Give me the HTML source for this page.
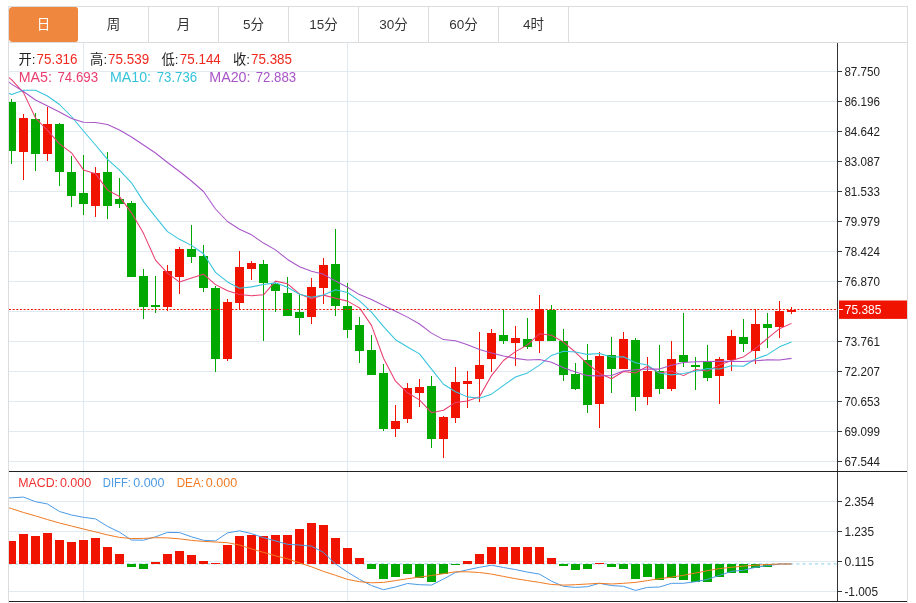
<!DOCTYPE html>
<html lang="zh-CN"><head><meta charset="utf-8"><title>K线图</title>
<style>
html,body{margin:0;padding:0;background:#fff}
body{width:916px;height:603px;position:relative;overflow:hidden;font-family:"Liberation Sans","Noto Sans CJK SC",sans-serif}
#frame{position:absolute;left:8px;top:6px;width:898px;height:596px;border:1px solid #dcdcdc;border-bottom:none;box-sizing:content-box}
#tabs{position:absolute;left:8px;top:6px;width:898px;height:35px;border:1px solid #dcdcdc;display:flex}
.tab{width:69px;height:35px;border-right:1px solid #dcdcdc;line-height:35px;text-align:center;font-size:13.5px;color:#333}
.tab.on{background:#f0873e;color:#fff;border-radius:3px;border-right-color:transparent;background-clip:padding-box}
</style></head><body>
<div id="frame"></div>
<div id="tabs"><div class="tab on">日</div><div class="tab">周</div><div class="tab">月</div><div class="tab">5分</div><div class="tab">15分</div><div class="tab">30分</div><div class="tab">60分</div><div class="tab">4时</div></div>
<svg width="916" height="603" viewBox="0 0 916 603" style="position:absolute;left:0;top:0">
<defs><clipPath id="cm"><rect x="9" y="43" width="828" height="428"/></clipPath><clipPath id="cd"><rect x="9" y="472" width="828" height="129"/></clipPath></defs>
<g stroke="#e2eaf1" stroke-width="1" shape-rendering="crispEdges">
<line x1="9" x2="837" y1="71.5" y2="71.5"/>
<line x1="9" x2="837" y1="101.5" y2="101.5"/>
<line x1="9" x2="837" y1="131.5" y2="131.5"/>
<line x1="9" x2="837" y1="161.5" y2="161.5"/>
<line x1="9" x2="837" y1="191.5" y2="191.5"/>
<line x1="9" x2="837" y1="221.5" y2="221.5"/>
<line x1="9" x2="837" y1="251.5" y2="251.5"/>
<line x1="9" x2="837" y1="281.5" y2="281.5"/>
<line x1="9" x2="837" y1="311.5" y2="311.5"/>
<line x1="9" x2="837" y1="341.5" y2="341.5"/>
<line x1="9" x2="837" y1="371.5" y2="371.5"/>
<line x1="9" x2="837" y1="401.5" y2="401.5"/>
<line x1="9" x2="837" y1="431.5" y2="431.5"/>
<line x1="9" x2="837" y1="461.5" y2="461.5"/>
<line x1="83.5" x2="83.5" y1="43" y2="471"/>
<line x1="83.5" x2="83.5" y1="472" y2="601"/>
<line x1="347.5" x2="347.5" y1="43" y2="471"/>
<line x1="347.5" x2="347.5" y1="472" y2="601"/>
<line x1="9" x2="837" y1="501.5" y2="501.5"/>
<line x1="9" x2="837" y1="531.5" y2="531.5"/>
<line x1="9" x2="837" y1="561.5" y2="561.5"/>
<line x1="9" x2="837" y1="591.5" y2="591.5"/>
</g>
<g clip-path="url(#cm)" shape-rendering="crispEdges">
<rect x="11" y="99" width="1" height="65" fill="#00a800"/>
<rect x="7" y="102" width="9" height="49" fill="#00a800"/>
<rect x="23" y="114" width="1" height="66" fill="#f01400"/>
<rect x="19" y="118" width="9" height="34" fill="#f01400"/>
<rect x="35" y="113" width="1" height="58" fill="#00a800"/>
<rect x="31" y="119" width="9" height="35" fill="#00a800"/>
<rect x="47" y="107" width="1" height="54" fill="#f01400"/>
<rect x="43" y="124" width="9" height="30" fill="#f01400"/>
<rect x="59" y="123" width="1" height="63" fill="#00a800"/>
<rect x="55" y="124" width="9" height="48" fill="#00a800"/>
<rect x="71" y="156" width="1" height="51" fill="#00a800"/>
<rect x="67" y="172" width="9" height="24" fill="#00a800"/>
<rect x="83" y="155" width="1" height="60" fill="#00a800"/>
<rect x="79" y="193" width="9" height="11" fill="#00a800"/>
<rect x="95" y="167" width="1" height="50" fill="#f01400"/>
<rect x="91" y="173" width="9" height="33" fill="#f01400"/>
<rect x="107" y="152" width="1" height="67" fill="#00a800"/>
<rect x="103" y="172" width="9" height="34" fill="#00a800"/>
<rect x="119" y="178" width="1" height="30" fill="#00a800"/>
<rect x="115" y="199" width="9" height="5" fill="#00a800"/>
<rect x="131" y="201" width="1" height="76" fill="#00a800"/>
<rect x="127" y="203" width="9" height="74" fill="#00a800"/>
<rect x="143" y="269" width="1" height="50" fill="#00a800"/>
<rect x="139" y="276" width="9" height="31" fill="#00a800"/>
<rect x="155" y="276" width="1" height="37" fill="#00a800"/>
<rect x="151" y="305" width="9" height="2" fill="#00a800"/>
<rect x="167" y="265" width="1" height="46" fill="#f01400"/>
<rect x="163" y="271" width="9" height="36" fill="#f01400"/>
<rect x="179" y="247" width="1" height="47" fill="#f01400"/>
<rect x="175" y="249" width="9" height="28" fill="#f01400"/>
<rect x="191" y="225" width="1" height="38" fill="#00a800"/>
<rect x="187" y="249" width="9" height="8" fill="#00a800"/>
<rect x="203" y="245" width="1" height="47" fill="#00a800"/>
<rect x="199" y="256" width="9" height="32" fill="#00a800"/>
<rect x="215" y="286" width="1" height="86" fill="#00a800"/>
<rect x="211" y="288" width="9" height="71" fill="#00a800"/>
<rect x="227" y="299" width="1" height="62" fill="#f01400"/>
<rect x="223" y="302" width="9" height="57" fill="#f01400"/>
<rect x="239" y="251" width="1" height="59" fill="#f01400"/>
<rect x="235" y="267" width="9" height="36" fill="#f01400"/>
<rect x="251" y="261" width="1" height="19" fill="#f01400"/>
<rect x="247" y="263" width="9" height="6" fill="#f01400"/>
<rect x="263" y="260" width="1" height="81" fill="#00a800"/>
<rect x="259" y="264" width="9" height="19" fill="#00a800"/>
<rect x="275" y="283" width="1" height="29" fill="#00a800"/>
<rect x="271" y="284" width="9" height="7" fill="#00a800"/>
<rect x="287" y="277" width="1" height="39" fill="#00a800"/>
<rect x="283" y="293" width="9" height="23" fill="#00a800"/>
<rect x="299" y="294" width="1" height="41" fill="#00a800"/>
<rect x="295" y="312" width="9" height="6" fill="#00a800"/>
<rect x="311" y="278" width="1" height="46" fill="#f01400"/>
<rect x="307" y="287" width="9" height="30" fill="#f01400"/>
<rect x="323" y="258" width="1" height="46" fill="#f01400"/>
<rect x="319" y="265" width="9" height="23" fill="#f01400"/>
<rect x="335" y="229" width="1" height="87" fill="#00a800"/>
<rect x="331" y="264" width="9" height="42" fill="#00a800"/>
<rect x="347" y="283" width="1" height="55" fill="#00a800"/>
<rect x="343" y="306" width="9" height="24" fill="#00a800"/>
<rect x="359" y="317" width="1" height="46" fill="#00a800"/>
<rect x="355" y="325" width="9" height="26" fill="#00a800"/>
<rect x="371" y="335" width="1" height="40" fill="#00a800"/>
<rect x="367" y="350" width="9" height="25" fill="#00a800"/>
<rect x="383" y="364" width="1" height="67" fill="#00a800"/>
<rect x="379" y="373" width="9" height="56" fill="#00a800"/>
<rect x="395" y="405" width="1" height="32" fill="#f01400"/>
<rect x="391" y="421" width="9" height="8" fill="#f01400"/>
<rect x="407" y="383" width="1" height="40" fill="#f01400"/>
<rect x="403" y="388" width="9" height="31" fill="#f01400"/>
<rect x="419" y="379" width="1" height="28" fill="#f01400"/>
<rect x="415" y="387" width="9" height="6" fill="#f01400"/>
<rect x="431" y="376" width="1" height="72" fill="#00a800"/>
<rect x="427" y="386" width="9" height="53" fill="#00a800"/>
<rect x="443" y="416" width="1" height="42" fill="#f01400"/>
<rect x="439" y="417" width="9" height="22" fill="#f01400"/>
<rect x="455" y="367" width="1" height="56" fill="#f01400"/>
<rect x="451" y="382" width="9" height="36" fill="#f01400"/>
<rect x="467" y="371" width="1" height="37" fill="#f01400"/>
<rect x="463" y="381" width="9" height="3" fill="#f01400"/>
<rect x="479" y="332" width="1" height="70" fill="#f01400"/>
<rect x="475" y="365" width="9" height="14" fill="#f01400"/>
<rect x="491" y="329" width="1" height="43" fill="#f01400"/>
<rect x="487" y="333" width="9" height="26" fill="#f01400"/>
<rect x="503" y="309" width="1" height="35" fill="#00a800"/>
<rect x="499" y="335" width="9" height="6" fill="#00a800"/>
<rect x="515" y="326" width="1" height="40" fill="#f01400"/>
<rect x="511" y="338" width="9" height="5" fill="#f01400"/>
<rect x="527" y="318" width="1" height="31" fill="#00a800"/>
<rect x="523" y="339" width="9" height="8" fill="#00a800"/>
<rect x="539" y="295" width="1" height="58" fill="#f01400"/>
<rect x="535" y="309" width="9" height="32" fill="#f01400"/>
<rect x="551" y="305" width="1" height="36" fill="#00a800"/>
<rect x="547" y="310" width="9" height="31" fill="#00a800"/>
<rect x="563" y="329" width="1" height="52" fill="#00a800"/>
<rect x="559" y="341" width="9" height="34" fill="#00a800"/>
<rect x="575" y="363" width="1" height="27" fill="#00a800"/>
<rect x="571" y="374" width="9" height="15" fill="#00a800"/>
<rect x="587" y="344" width="1" height="69" fill="#00a800"/>
<rect x="583" y="360" width="9" height="45" fill="#00a800"/>
<rect x="599" y="352" width="1" height="76" fill="#f01400"/>
<rect x="595" y="356" width="9" height="48" fill="#f01400"/>
<rect x="611" y="337" width="1" height="56" fill="#00a800"/>
<rect x="607" y="355" width="9" height="14" fill="#00a800"/>
<rect x="623" y="332" width="1" height="37" fill="#f01400"/>
<rect x="619" y="339" width="9" height="30" fill="#f01400"/>
<rect x="635" y="338" width="1" height="73" fill="#00a800"/>
<rect x="631" y="340" width="9" height="57" fill="#00a800"/>
<rect x="647" y="357" width="1" height="48" fill="#f01400"/>
<rect x="643" y="371" width="9" height="26" fill="#f01400"/>
<rect x="659" y="345" width="1" height="49" fill="#00a800"/>
<rect x="655" y="371" width="9" height="18" fill="#00a800"/>
<rect x="671" y="341" width="1" height="50" fill="#f01400"/>
<rect x="667" y="359" width="9" height="30" fill="#f01400"/>
<rect x="683" y="313" width="1" height="54" fill="#00a800"/>
<rect x="679" y="355" width="9" height="7" fill="#00a800"/>
<rect x="695" y="357" width="1" height="33" fill="#00a800"/>
<rect x="691" y="365" width="9" height="2" fill="#00a800"/>
<rect x="707" y="345" width="1" height="36" fill="#00a800"/>
<rect x="703" y="361" width="9" height="17" fill="#00a800"/>
<rect x="719" y="357" width="1" height="47" fill="#f01400"/>
<rect x="715" y="359" width="9" height="17" fill="#f01400"/>
<rect x="731" y="330" width="1" height="41" fill="#f01400"/>
<rect x="727" y="336" width="9" height="24" fill="#f01400"/>
<rect x="743" y="319" width="1" height="33" fill="#00a800"/>
<rect x="739" y="337" width="9" height="7" fill="#00a800"/>
<rect x="755" y="309" width="1" height="55" fill="#f01400"/>
<rect x="751" y="324" width="9" height="27" fill="#f01400"/>
<rect x="767" y="313" width="1" height="35" fill="#00a800"/>
<rect x="763" y="324" width="9" height="4" fill="#00a800"/>
<rect x="779" y="301" width="1" height="37" fill="#f01400"/>
<rect x="775" y="311" width="9" height="16" fill="#f01400"/>
<rect x="791" y="307" width="1" height="7" fill="#f01400"/>
<rect x="787" y="310" width="9" height="2" fill="#f01400"/>
</g>
<polyline clip-path="url(#cm)" points="-0.5,69.7 11.5,79.7 23.5,92.6 35.5,118 47.5,130.4 59.5,143.8 71.5,152.8 83.5,169.92 95.5,173.68 107.5,190.12 119.5,196.58 131.5,212.82 143.5,233.34 155.5,260.16 167.5,273.06 179.5,282.08 191.5,277.98 203.5,274.2 215.5,284.6 227.5,290.84 239.5,294.46 251.5,295.76 263.5,294.78 275.5,281.12 287.5,283.82 299.5,293.9 311.5,298.7 323.5,295.12 335.5,298.22 347.5,301.12 359.5,307.88 371.5,325.4 383.5,358.22 395.5,381.22 407.5,392.82 419.5,399.92 431.5,412.7 443.5,410.24 455.5,402.4 467.5,400.96 479.5,396.62 491.5,375.56 503.5,360.46 515.5,351.66 527.5,344.9 539.5,333.7 551.5,335.3 563.5,342.1 575.5,352.26 587.5,363.88 599.5,373.22 611.5,378.68 623.5,371.44 635.5,373.08 647.5,366.28 659.5,372.94 671.5,371.06 683.5,375.62 695.5,369.62 707.5,370.92 719.5,364.94 731.5,360.4 743.5,356.88 755.5,348.34 767.5,338.38 779.5,328.7 791.5,323.38" fill="none" stroke="#ea3d6f" stroke-width="1.05" stroke-linejoin="round"/>
<polyline clip-path="url(#cm)" points="-0.5,89.4 11.5,94.4 23.5,90.2 35.5,90.2 47.5,96 59.5,104.5 71.5,116.5 83.5,131 95.5,145 107.5,159.4 119.5,170.19 131.5,182.81 143.5,201.63 155.5,216.92 167.5,231.59 179.5,239.33 191.5,245.4 203.5,253.77 215.5,272.38 227.5,281.95 239.5,288.27 251.5,286.87 263.5,284.49 275.5,282.86 287.5,287.33 299.5,294.18 311.5,297.23 323.5,294.95 335.5,289.67 347.5,292.47 359.5,300.89 371.5,312.05 383.5,326.67 395.5,339.72 407.5,346.97 419.5,353.9 431.5,369.05 443.5,384.23 455.5,391.81 467.5,396.89 479.5,398.27 491.5,394.13 503.5,385.35 515.5,377.03 527.5,372.93 539.5,365.16 551.5,355.43 563.5,351.28 575.5,351.96 587.5,354.39 599.5,353.46 611.5,356.99 623.5,356.77 635.5,362.67 647.5,365.08 659.5,373.08 671.5,374.87 683.5,373.53 695.5,371.35 707.5,368.6 719.5,368.94 731.5,365.73 743.5,366.25 755.5,358.98 767.5,354.65 779.5,346.82 791.5,341.89" fill="none" stroke="#35c3dc" stroke-width="1.05" stroke-linejoin="round"/>
<polyline clip-path="url(#cm)" points="-0.5,75 11.5,84.1 23.5,91.5 35.5,100 47.5,106 59.5,112 71.5,118.5 83.5,122.2 95.5,122.6 107.5,124.5 119.5,130 131.5,137 143.5,145 155.5,153 167.5,162.5 179.5,171.5 191.5,181 203.5,191.5 215.5,209 227.5,221.5 239.5,229.23 251.5,234.84 263.5,243.06 275.5,249.89 287.5,259.46 299.5,266.75 311.5,271.31 323.5,274.36 335.5,281.02 347.5,287.21 359.5,294.58 371.5,299.46 383.5,305.58 395.5,311.29 407.5,317.15 419.5,324.04 431.5,333.14 443.5,339.59 455.5,340.74 467.5,344.68 479.5,349.58 491.5,353.09 503.5,356.01 515.5,358.38 527.5,359.95 539.5,359.53 551.5,362.24 563.5,367.75 575.5,371.88 587.5,375.64 599.5,375.87 611.5,375.56 623.5,371.06 635.5,369.85 647.5,369 659.5,369.12 671.5,365.15 683.5,362.41 695.5,361.66 707.5,361.5 719.5,361.2 731.5,361.36 743.5,361.51 755.5,360.82 767.5,359.87 779.5,359.95 791.5,358.38" fill="none" stroke="#a855c7" stroke-width="1.05" stroke-linejoin="round"/>
<line x1="9" x2="837" y1="309.5" y2="309.5" stroke="#f01400" stroke-width="1" stroke-dasharray="2 1.65"/>
<line x1="9" x2="837" y1="563.9" y2="563.9" stroke="#9fd8ee" stroke-width="1.3" stroke-dasharray="3 3.2"/>
<g clip-path="url(#cd)" shape-rendering="crispEdges">
<rect x="7" y="541" width="9" height="23" fill="#f01400"/>
<rect x="19" y="534" width="9" height="30" fill="#f01400"/>
<rect x="31" y="536" width="9" height="28" fill="#f01400"/>
<rect x="43" y="533" width="9" height="31" fill="#f01400"/>
<rect x="55" y="540" width="9" height="24" fill="#f01400"/>
<rect x="67" y="542" width="9" height="22" fill="#f01400"/>
<rect x="79" y="540" width="9" height="24" fill="#f01400"/>
<rect x="91" y="538" width="9" height="26" fill="#f01400"/>
<rect x="103" y="547" width="9" height="17" fill="#f01400"/>
<rect x="115" y="554" width="9" height="10" fill="#f01400"/>
<rect x="127" y="564" width="9" height="3" fill="#00a800"/>
<rect x="139" y="564" width="9" height="5" fill="#00a800"/>
<rect x="151" y="562" width="9" height="2" fill="#f01400"/>
<rect x="163" y="554" width="9" height="10" fill="#f01400"/>
<rect x="175" y="551" width="9" height="13" fill="#f01400"/>
<rect x="187" y="555" width="9" height="9" fill="#f01400"/>
<rect x="199" y="561" width="9" height="3" fill="#f01400"/>
<rect x="211" y="563" width="9" height="1" fill="#f01400"/>
<rect x="223" y="545" width="9" height="19" fill="#f01400"/>
<rect x="235" y="536" width="9" height="28" fill="#f01400"/>
<rect x="247" y="535" width="9" height="29" fill="#f01400"/>
<rect x="259" y="536" width="9" height="28" fill="#f01400"/>
<rect x="271" y="535" width="9" height="29" fill="#f01400"/>
<rect x="283" y="535" width="9" height="29" fill="#f01400"/>
<rect x="295" y="529" width="9" height="35" fill="#f01400"/>
<rect x="307" y="523" width="9" height="41" fill="#f01400"/>
<rect x="319" y="525" width="9" height="39" fill="#f01400"/>
<rect x="331" y="538" width="9" height="26" fill="#f01400"/>
<rect x="343" y="548" width="9" height="16" fill="#f01400"/>
<rect x="355" y="558" width="9" height="6" fill="#f01400"/>
<rect x="367" y="564" width="9" height="5" fill="#00a800"/>
<rect x="379" y="564" width="9" height="15" fill="#00a800"/>
<rect x="391" y="564" width="9" height="13" fill="#00a800"/>
<rect x="403" y="564" width="9" height="10" fill="#00a800"/>
<rect x="415" y="564" width="9" height="14" fill="#00a800"/>
<rect x="427" y="564" width="9" height="18" fill="#00a800"/>
<rect x="439" y="564" width="9" height="10" fill="#00a800"/>
<rect x="451" y="564" width="9" height="1" fill="#00a800"/>
<rect x="463" y="561" width="9" height="3" fill="#f01400"/>
<rect x="475" y="554" width="9" height="10" fill="#f01400"/>
<rect x="487" y="547" width="9" height="17" fill="#f01400"/>
<rect x="499" y="547" width="9" height="17" fill="#f01400"/>
<rect x="511" y="547" width="9" height="17" fill="#f01400"/>
<rect x="523" y="547" width="9" height="17" fill="#f01400"/>
<rect x="535" y="547" width="9" height="17" fill="#f01400"/>
<rect x="547" y="558" width="9" height="6" fill="#f01400"/>
<rect x="559" y="564" width="9" height="2" fill="#00a800"/>
<rect x="571" y="564" width="9" height="6" fill="#00a800"/>
<rect x="583" y="564" width="9" height="5" fill="#00a800"/>
<rect x="595" y="563" width="9" height="1" fill="#f01400"/>
<rect x="607" y="564" width="9" height="3" fill="#00a800"/>
<rect x="619" y="564" width="9" height="5" fill="#00a800"/>
<rect x="631" y="564" width="9" height="15" fill="#00a800"/>
<rect x="643" y="564" width="9" height="13" fill="#00a800"/>
<rect x="655" y="564" width="9" height="16" fill="#00a800"/>
<rect x="667" y="564" width="9" height="14" fill="#00a800"/>
<rect x="679" y="564" width="9" height="16" fill="#00a800"/>
<rect x="691" y="564" width="9" height="18" fill="#00a800"/>
<rect x="703" y="564" width="9" height="18" fill="#00a800"/>
<rect x="715" y="564" width="9" height="13" fill="#00a800"/>
<rect x="727" y="564" width="9" height="9" fill="#00a800"/>
<rect x="739" y="564" width="9" height="9" fill="#00a800"/>
<rect x="751" y="564" width="9" height="4" fill="#00a800"/>
<rect x="763" y="564" width="9" height="3" fill="#00a800"/>
</g>
<polyline clip-path="url(#cd)" points="-0.5,498.5 11.5,497.8 23.5,497.1 35.5,501.7 47.5,504 59.5,511.5 71.5,515 83.5,517.3 95.5,518.9 107.5,526.4 119.5,532.2 131.5,540 143.5,540.2 155.5,536.8 167.5,532.4 179.5,532.6 191.5,536.8 203.5,540.3 215.5,540.9 227.5,532.9 239.5,530.8 251.5,533.6 263.5,537.7 275.5,540.9 287.5,544.3 299.5,545 311.5,546.2 323.5,552.4 335.5,564 347.5,572.1 359.5,579.4 371.5,585.6 383.5,589.7 395.5,587 407.5,583.5 419.5,584.7 431.5,585.1 443.5,579 455.5,572.5 467.5,569.8 479.5,567.3 491.5,565.2 503.5,567.5 515.5,569.6 527.5,572.1 539.5,574.1 551.5,581.2 563.5,586.3 575.5,587.4 587.5,586.7 599.5,583.3 611.5,585.6 623.5,586.3 635.5,590.4 647.5,587.4 659.5,587 671.5,583.3 683.5,583.3 695.5,581.7 707.5,579.4 719.5,575.3 731.5,571.4 743.5,570.2 755.5,567.3 767.5,565.7 779.5,564 791.5,564" fill="none" stroke="#4a9ae6" stroke-width="1" stroke-linejoin="round"/>
<polyline clip-path="url(#cd)" points="-0.5,504.7 11.5,508.6 23.5,512.5 35.5,515.9 47.5,519.6 59.5,523 71.5,526 83.5,529 95.5,531.9 107.5,534.9 119.5,537.4 131.5,538.6 143.5,538.4 155.5,537.7 167.5,537.9 179.5,538.8 191.5,540.4 203.5,541.4 215.5,542 227.5,542.7 239.5,545 251.5,548.9 263.5,552.4 275.5,555.8 287.5,558.8 299.5,562.9 311.5,566.8 323.5,571.4 335.5,575.3 347.5,579.4 359.5,581.7 371.5,582.8 383.5,582.4 395.5,580.6 407.5,578.7 419.5,577.1 431.5,575.5 443.5,573.7 455.5,571.8 467.5,571.8 479.5,572.5 491.5,574.1 503.5,576.4 515.5,578.7 527.5,580.6 539.5,582.4 551.5,584.5 563.5,585.1 575.5,584.7 587.5,584 599.5,583.3 611.5,584 623.5,583.3 635.5,582.4 647.5,580.6 659.5,578.7 671.5,577.1 683.5,575.3 695.5,573 707.5,570.7 719.5,568.6 731.5,567.3 743.5,566.1 755.5,565.2 767.5,564.5 779.5,564 791.5,564" fill="none" stroke="#f07a22" stroke-width="1" stroke-linejoin="round"/>
<g shape-rendering="crispEdges">
<rect x="837" y="43" width="1" height="559" fill="#333"/>
<rect x="9" y="471" width="898" height="1" fill="#222"/>
<rect x="9" y="601" width="898" height="1" fill="#222"/>
<rect x="838" y="71" width="4" height="1" fill="#333"/>
<rect x="838" y="101" width="4" height="1" fill="#333"/>
<rect x="838" y="131" width="4" height="1" fill="#333"/>
<rect x="838" y="161" width="4" height="1" fill="#333"/>
<rect x="838" y="191" width="4" height="1" fill="#333"/>
<rect x="838" y="221" width="4" height="1" fill="#333"/>
<rect x="838" y="251" width="4" height="1" fill="#333"/>
<rect x="838" y="281" width="4" height="1" fill="#333"/>
<rect x="838" y="341" width="4" height="1" fill="#333"/>
<rect x="838" y="371" width="4" height="1" fill="#333"/>
<rect x="838" y="401" width="4" height="1" fill="#333"/>
<rect x="838" y="431" width="4" height="1" fill="#333"/>
<rect x="838" y="461" width="4" height="1" fill="#333"/>
<rect x="838" y="501" width="4" height="1" fill="#333"/>
<rect x="838" y="531" width="4" height="1" fill="#333"/>
<rect x="838" y="561" width="4" height="1" fill="#333"/>
<rect x="838" y="591" width="4" height="1" fill="#333"/>
</g>
<rect x="839" y="300.5" width="68" height="18.4" fill="#f01400"/>
<rect x="838" y="309" width="5" height="1" fill="#fff" shape-rendering="crispEdges"/>
<g font-family="'Liberation Sans', sans-serif" font-size="12.6" fill="#222">
<text x="844.4" y="75.5" textLength="35.6" lengthAdjust="spacingAndGlyphs">87.750</text>
<text x="844.4" y="105.5" textLength="35.6" lengthAdjust="spacingAndGlyphs">86.196</text>
<text x="844.4" y="135.5" textLength="35.6" lengthAdjust="spacingAndGlyphs">84.642</text>
<text x="844.4" y="165.5" textLength="35.6" lengthAdjust="spacingAndGlyphs">83.087</text>
<text x="844.4" y="195.5" textLength="35.6" lengthAdjust="spacingAndGlyphs">81.533</text>
<text x="844.4" y="225.5" textLength="35.6" lengthAdjust="spacingAndGlyphs">79.979</text>
<text x="844.4" y="255.5" textLength="35.6" lengthAdjust="spacingAndGlyphs">78.424</text>
<text x="844.4" y="285.5" textLength="35.6" lengthAdjust="spacingAndGlyphs">76.870</text>
<text x="844.4" y="345.5" textLength="35.6" lengthAdjust="spacingAndGlyphs">73.761</text>
<text x="844.4" y="375.5" textLength="35.6" lengthAdjust="spacingAndGlyphs">72.207</text>
<text x="844.4" y="405.5" textLength="35.6" lengthAdjust="spacingAndGlyphs">70.653</text>
<text x="844.4" y="435.5" textLength="35.6" lengthAdjust="spacingAndGlyphs">69.099</text>
<text x="844.4" y="465.5" textLength="35.6" lengthAdjust="spacingAndGlyphs">67.544</text>
<text x="844.4" y="505.5" textLength="29.6" lengthAdjust="spacingAndGlyphs">2.354</text>
<text x="844.4" y="535.5" textLength="29.6" lengthAdjust="spacingAndGlyphs">1.235</text>
<text x="844.4" y="565.5" textLength="29.6" lengthAdjust="spacingAndGlyphs">0.115</text>
<text x="844.4" y="595.5" textLength="33.6" lengthAdjust="spacingAndGlyphs">-1.005</text>
<text x="844.8" y="314.2" fill="#fff" textLength="36.6" lengthAdjust="spacingAndGlyphs">75.385</text>
</g>
<g font-family="'Liberation Sans', 'Noto Sans CJK SC', sans-serif">
<text x="18.5" y="64.3" font-size="13.3" fill="#222">开:</text>
<text x="36.5" y="64" font-size="14" fill="#f0281e" textLength="41" lengthAdjust="spacingAndGlyphs">75.316</text>
<text x="90.1" y="64.3" font-size="13.3" fill="#222">高:</text>
<text x="108.1" y="64" font-size="14" fill="#f0281e" textLength="41" lengthAdjust="spacingAndGlyphs">75.539</text>
<text x="161.4" y="64.3" font-size="13.3" fill="#222">低:</text>
<text x="179.8" y="64" font-size="14" fill="#f0281e" textLength="41" lengthAdjust="spacingAndGlyphs">75.144</text>
<text x="233" y="64.3" font-size="13.3" fill="#222">收:</text>
<text x="251" y="64" font-size="14" fill="#f0281e" textLength="41" lengthAdjust="spacingAndGlyphs">75.385</text>
<text x="18.7" y="82" font-size="14" fill="#ea3d6f" textLength="33.2" lengthAdjust="spacingAndGlyphs">MA5:</text>
<text x="57.5" y="82" font-size="14" fill="#ea3d6f" textLength="40.5" lengthAdjust="spacingAndGlyphs">74.693</text>
<text x="110" y="82" font-size="14" fill="#35c3dc" textLength="41" lengthAdjust="spacingAndGlyphs">MA10:</text>
<text x="156.7" y="82" font-size="14" fill="#35c3dc" textLength="40.5" lengthAdjust="spacingAndGlyphs">73.736</text>
<text x="209.3" y="82" font-size="14" fill="#a855c7" textLength="41.2" lengthAdjust="spacingAndGlyphs">MA20:</text>
<text x="255.7" y="82" font-size="14" fill="#a855c7" textLength="40.5" lengthAdjust="spacingAndGlyphs">72.883</text>
<text x="18.2" y="487" font-size="13" fill="#f03030" textLength="39.8" lengthAdjust="spacingAndGlyphs">MACD:</text>
<text x="59.9" y="487" font-size="13" fill="#f03030" textLength="31.4" lengthAdjust="spacingAndGlyphs">0.000</text>
<text x="102.8" y="487" font-size="13" fill="#4a9ae6" textLength="28.2" lengthAdjust="spacingAndGlyphs">DIFF:</text>
<text x="133.2" y="487" font-size="13" fill="#4a9ae6" textLength="31.4" lengthAdjust="spacingAndGlyphs">0.000</text>
<text x="176.7" y="487" font-size="13" fill="#f07a22" textLength="27.2" lengthAdjust="spacingAndGlyphs">DEA:</text>
<text x="205.8" y="487" font-size="13" fill="#f07a22" textLength="31.4" lengthAdjust="spacingAndGlyphs">0.000</text>
</g>
</svg>
</body></html>
